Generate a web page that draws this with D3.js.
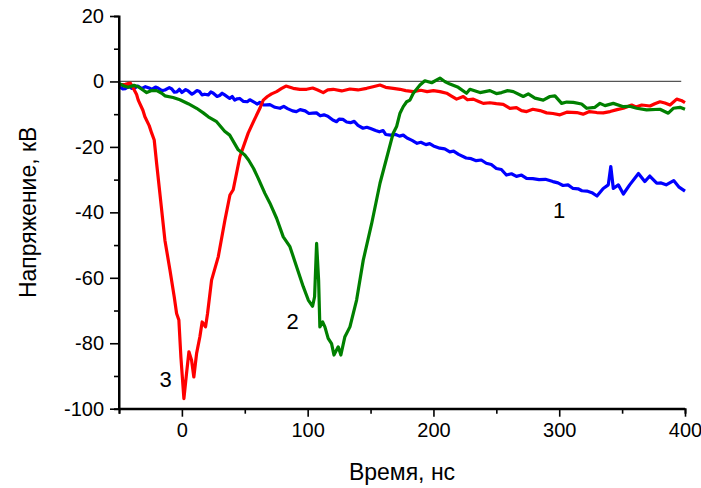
<!DOCTYPE html>
<html><head><meta charset="utf-8">
<script src="https://cdn.jsdelivr.net/npm/d3@7"></script>
<style>body{margin:0;background:#fff}svg{display:block}text{font-family:"Liberation Sans",Arial,sans-serif}</style>
</head><body><svg id="c" width="701" height="488"></svg>
<script>
const xTicks = [0,100,200,300,400];
const xMinor = [-50,50,150,250,350];
const yTicks = [-100,-80,-60,-40,-20,0,20];
const yMinor = [-90,-70,-50,-30,-10,10];
const xTitle = "Время, нс";
const yTitle = "Напряжение, кВ";

// Curve 1 (blue)
const series1 = [[-50,-1.6],[-47,-2.3],[-45,-2.2],[-42,-1.5],[-40,-2.1],[-37,-1.9],[-35,-1.4],[-32,-2.2],[-29,-1.6],[-26,-2.0],[-24,-2.4],[-21,-1.7],[-19,-2.0],[-16,-2.8],[-13.5,-2.6],[-10,-1.9],[-8,-2.3],[-6,-3.3],[-4,-3.2],[-2,-2.4],[0,-3.4],[3,-2.5],[5,-2.9],[8,-3.9],[10,-3.4],[12,-2.8],[14,-3.1],[16,-4.1],[18,-3.9],[21,-4.1],[23,-3.2],[25,-3.6],[28,-4.6],[30,-4.3],[32,-3.6],[34,-4.1],[38,-5.2],[40,-4.6],[42,-5.7],[44,-5.3],[46,-5.2],[49,-6.1],[52,-6.2],[54,-5.6],[56,-6.0],[60,-6.9],[62,-6.4],[65,-7.2],[70,-7.1],[74,-7.9],[78,-8.2],[81,-7.6],[84,-8.3],[88,-9.0],[91,-9.2],[94,-8.6],[98,-9.0],[101,-9.8],[104,-9.7],[107,-9.6],[110,-10.5],[113,-10.2],[116,-10.6],[120,-11.8],[123,-12.3],[125,-11.5],[128,-11.6],[131,-12.4],[134,-12.6],[137,-12.2],[140,-13.4],[144,-14.3],[147,-14.0],[150,-14.4],[154,-15.0],[157,-15.4],[160,-15.0],[162,-16.2],[166,-16.4],[170,-16.2],[173,-16.7],[176,-16.4],[179,-17.3],[183,-18.0],[187,-18.9],[190,-18.6],[194,-19.3],[197,-19.0],[200,-19.7],[205,-20.4],[209,-20.6],[213,-21.5],[216,-21.3],[220,-22.3],[226,-23.4],[230,-23.6],[234,-24.2],[238,-24.0],[242,-25.0],[246,-25.4],[250,-26.6],[254,-26.9],[258,-28.6],[262,-28.2],[266,-29.0],[270,-28.6],[274,-29.6],[279,-29.7],[284,-30.0],[289,-29.9],[295,-30.6],[299,-31.0],[303,-31.8],[307,-31.6],[311,-32.7],[315,-32.8],[318,-33.4],[322,-33.5],[326,-34.0],[330,-35.0],[335,-32.7],[339,-31.6],[341,-26.0],[343,-32.7],[347,-31.6],[351,-34.4],[356,-31.6],[363,-28.1],[368,-30.6],[372,-28.9],[377.5,-31.1],[381,-31.0],[385,-31.6],[391,-30.3],[395,-32.2],[400,-33.5]];

// Curve 2 (green)
const series2 = [[-50,-0.6],[-46,-1.4],[-42.7,-1.8],[-38,-1.2],[-34.7,-1.6],[-31,-2.6],[-28,-3.4],[-24,-2.8],[-20,-2.8],[-16,-3.6],[-13.5,-4.4],[-7,-4.9],[-1.6,-5.6],[5,-6.8],[11.7,-8.2],[17,-9.6],[21,-10.8],[27.6,-12.3],[34,-15.2],[38,-16.4],[44.8,-20.9],[50,-22.5],[53,-24.0],[57,-26.6],[60.7,-29.6],[66,-34.2],[70,-37.2],[75.3,-41.8],[80.6,-47.5],[85.9,-50.5],[91.2,-56.6],[96.5,-62.7],[100.5,-66.8],[103.9,-68.7],[105.5,-65.8],[107.1,-49.5],[108.7,-60.7],[109.7,-75.0],[111.9,-73.5],[113.7,-75.0],[116.3,-78.5],[119,-80.1],[120.9,-83.6],[124.3,-81.1],[126.4,-83.6],[129.6,-78.0],[133.6,-75.0],[138.9,-66.8],[144.2,-54.6],[150.9,-43.4],[157.5,-31.1],[162.8,-23.4],[168,-15.8],[170.7,-13.8],[173.4,-9.7],[176,-7.7],[178.7,-6.2],[181.3,-5.7],[184,-3.6],[189.3,-1.1],[193.2,0.2],[198.6,-0.4],[205.2,1.0],[209,0.0],[213.1,-0.8],[219.7,-1.8],[226.3,-3.6],[229,-2.4],[237,-3.4],[244.9,-2.8],[250,-3.7],[254.2,-3.4],[259,-2.8],[263.5,-3.1],[271.4,-4.6],[275.4,-3.8],[280.7,-5.1],[287.3,-5.7],[292.6,-4.6],[296.6,-4.4],[301.9,-6.7],[306,-6.3],[311.2,-6.4],[317.8,-6.9],[321.8,-8.2],[328.4,-7.9],[332.4,-6.7],[336.4,-7.4],[343,-6.7],[351,-7.7],[356,-7.6],[361.6,-8.2],[369.5,-8.7],[380.1,-8.5],[386.7,-9.7],[390.7,-8.2],[396,-7.9],[400,-8.5]];

// Curve 3 (red)
const series3 = [[-50,-1.0],[-45,-0.9],[-41,-0.5],[-38.7,-2.0],[-36,-4.0],[-34.7,-5.7],[-31,-8.8],[-29.4,-10.8],[-26,-13.5],[-24,-15.8],[-22,-17.9],[-20.1,-25.0],[-17.5,-34.2],[-13.5,-48.5],[-9.5,-57.6],[-6.1,-65.8],[-4.2,-70.9],[-2.4,-72.9],[-0.8,-84.2],[1.6,-96.9],[3.7,-89.2],[5.6,-82.6],[7.7,-85.2],[9.5,-90.3],[11.7,-83.1],[14.3,-78.0],[16.1,-73.5],[18.8,-75.0],[20.4,-70.9],[23.6,-60.7],[28.9,-53.6],[34.2,-42.4],[38.2,-34.7],[40.8,-33.1],[46.1,-23.0],[52.7,-15.8],[57,-12.2],[62,-8.2],[64.7,-5.7],[68,-4.6],[71.3,-3.8],[75.3,-3.1],[79,-2.2],[82.7,-1.4],[88.5,-2.1],[93.8,-2.4],[99.2,-2.4],[104,-2.0],[108,-2.6],[112.4,-3.4],[116,-2.6],[120.3,-2.4],[127,-2.9],[133.6,-2.3],[140,-2.6],[146.9,-2.1],[152,-1.6],[157.5,-1.1],[162,-1.8],[168,-2.1],[173.4,-2.4],[178,-2.8],[184,-3.1],[190,-2.7],[195,-3.1],[200,-2.8],[205.2,-3.1],[210.5,-3.6],[214,-4.4],[218.4,-5.4],[223.7,-4.6],[227,-5.6],[231.7,-5.4],[236,-6.1],[239.6,-6.7],[244.9,-6.5],[250,-6.8],[255.5,-7.0],[260.8,-8.2],[266,-8.0],[270,-8.9],[274.1,-9.2],[279,-8.5],[284.7,-8.9],[290,-9.6],[295,-9.8],[300.6,-10.2],[306,-9.4],[313.9,-9.5],[319,-10.0],[324,-9.2],[329.8,-9.5],[335,-9.6],[340.4,-9.2],[346,-8.6],[351,-8.2],[357.6,-7.2],[361,-7.8],[365.6,-7.2],[372.2,-7.5],[376,-6.8],[380.1,-6.2],[384,-6.6],[388.1,-7.2],[393.4,-5.4],[397,-5.8],[400,-6.5]];

const seriesColors = ["#0000ff","#008000","#ff0000"];
const curveLabels = [{t:"1",x:300,y:-40},{t:"2",x:88,y:-74},{t:"3",x:-13,y:-91.5}];

const svg = d3.select("#c");
const x = d3.scaleLinear().domain([-50,400]).range([119,685]);
const y = d3.scaleLinear().domain([-100,20]).range([408.7,16]);

// zero line
svg.append("line").attr("x1",x(-50)).attr("x2",x(397)).attr("y1",y(0)).attr("y2",y(0))
  .attr("stroke","#555").attr("stroke-width",1.2);

const line = d3.line().x(d=>x(d[0])).y(d=>y(d[1])).curve(d3.curveLinear);
const data = [series1, series3, series2];
const cols = [seriesColors[0], seriesColors[2], seriesColors[1]];
data.forEach((s,i)=>{
  svg.append("path").datum(s).attr("d",line).attr("fill","none")
    .attr("stroke",cols[i]).attr("stroke-width",3.2).attr("stroke-linejoin","round");
});

// axes
const gx = svg.append("g").attr("transform",`translate(0,${y(-100)})`)
  .call(d3.axisBottom(x).tickValues(xTicks).tickSize(8).tickPadding(6).tickFormat(d3.format("d")));
const gxm = svg.append("g").attr("transform",`translate(0,${y(-100)})`)
  .call(d3.axisBottom(x).tickValues(xMinor).tickSize(5).tickFormat(""));
const gy = svg.append("g").attr("transform",`translate(${x(-50)},0)`)
  .call(d3.axisLeft(y).tickValues(yTicks).tickSize(9).tickPadding(6).tickFormat(d=>d<0?"-"+Math.abs(d):d));
const gym = svg.append("g").attr("transform",`translate(${x(-50)},0)`)
  .call(d3.axisLeft(y).tickValues(yMinor).tickSize(5).tickFormat(""));
[gx,gxm,gy,gym].forEach(g=>{
  g.selectAll("path.domain").attr("stroke","#000").attr("stroke-width",2);
  g.selectAll(".tick line").attr("stroke","#000").attr("stroke-width",1.6);
  g.selectAll("text").attr("font-family","Liberation Sans, Arial, sans-serif").attr("font-size",20).attr("fill","#000");
});
gx.selectAll("path.domain").attr("d",`M${x(-50)},0H${x(400)}`);
gy.selectAll("path.domain").attr("d",`M0,${y(-100)}V${y(20)}`);

curveLabels.forEach(l=>{
  svg.append("text").attr("x",x(l.x)).attr("y",y(l.y)).attr("text-anchor","middle")
    .attr("dominant-baseline","middle").attr("font-size",22).text(l.t);
});

svg.append("text").attr("x",(x(-50)+x(400))/2).attr("y",480).attr("text-anchor","middle")
  .attr("font-size",23).text(xTitle);
svg.append("text").attr("transform",`translate(36,${(y(-100)+y(20))/2}) rotate(-90)`)
  .attr("text-anchor","middle").attr("font-size",23).text(yTitle);
</script></body></html>
